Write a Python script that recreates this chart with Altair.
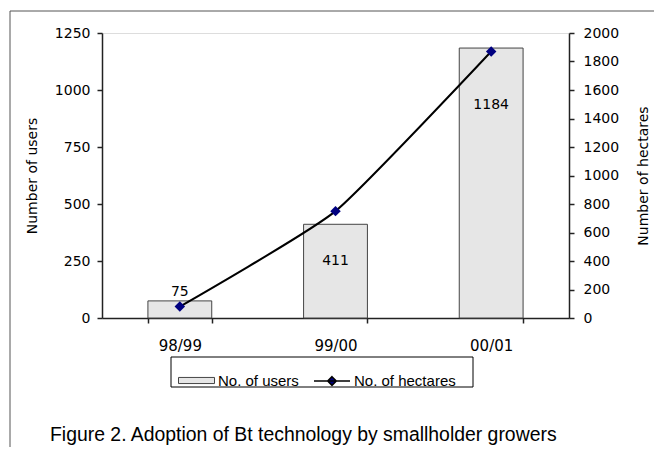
import altair as alt
import pandas as pd

# ---- data ----
categories = ["98/99", "99/00", "00/01"]
users = [75, 411, 1184]
hectares = [80, 750, 1870]
users_ticks = [0, 250, 500, 750, 1000, 1250]
hectare_ticks = [0, 200, 400, 600, 800, 1000, 1200, 1400, 1600, 1800, 2000]
caption = ["Figure 2. Adoption of Bt technology by smallholder growers"]

df = pd.DataFrame({"season": categories, "users": users, "hectares": hectares})
cap_df = pd.DataFrame({"caption": caption})
one = pd.DataFrame({"k": [0]})

AXFONT = "DejaVu Sans"
LEGFONT = "Liberation Sans"

x_enc = alt.X(
    "season:N",
    sort=categories,
    scale=alt.Scale(paddingInner=0.59, paddingOuter=0.295),
    axis=alt.Axis(
        title=None, labelAngle=0, tickBand="extent", tickSize=5, labelPadding=15,
        labelFont=AXFONT, labelFontSize=15, labelColor="black",
        domainColor="#222", domainWidth=1.5, tickColor="#222", tickWidth=1.5,
    ),
)

y_users = alt.Y(
    "users:Q",
    scale=alt.Scale(domain=[0, 1250], nice=False),
    axis=alt.Axis(
        title="Number of users", values=users_ticks, format="d", grid=False, tickSize=5,
        labelPadding=7, labelFont=AXFONT, labelFontSize=14, labelColor="black",
        titleFont=AXFONT, titleFontSize=14, titleFontWeight="normal",
        titleColor="black", titlePadding=15,
        domainColor="#222", domainWidth=1.5, tickColor="#222", tickWidth=1.5,
    ),
)

y_hect = alt.Y(
    "hectares:Q",
    scale=alt.Scale(domain=[0, 2000], nice=False),
    axis=alt.Axis(
        title="Number of hectares", orient="right", values=hectare_ticks, format="d",
        grid=False, tickSize=5, labelPadding=9, labelFont=AXFONT, labelFontSize=14,
        labelColor="black", titleFont=AXFONT, titleFontSize=14,
        titleFontWeight="normal", titleColor="black", titlePadding=32, titleAngle=270,
        domainColor="#222", domainWidth=1.5, tickColor="#222", tickWidth=1.5,
    ),
)

legend_users = alt.Legend(
    title=None, orient="none", legendX=76, legendY=329, padding=0,
    labelFont=LEGFONT, labelFontSize=15, labelColor="black", labelOffset=3,
    symbolSize=1296, symbolType="M-1,-0.17H1V0.17H-1Z",
    symbolStrokeColor="#444444", symbolStrokeWidth=1,
)

legend_hect = alt.Legend(
    title=None, orient="none", legendX=211, legendY=329, padding=0,
    labelFont=LEGFONT, labelFontSize=15, labelColor="black", labelOffset=3,
    symbolSize=1296, symbolType="M-1,0H1M0,-0.24L0.24,0L0,0.24L-0.24,0Z",
    symbolFillColor="#000080", symbolStrokeWidth=1.5,
)

bars = alt.Chart(df).mark_bar(stroke="#444444", strokeWidth=1).encode(
    x=x_enc,
    y=y_users,
    fill=alt.Fill(
        "series:N",
        scale=alt.Scale(domain=["No. of users"], range=["#e6e6e6"]),
        legend=legend_users,
    ),
).transform_calculate(series="'No. of users'")


def label_layer(season, dy, baseline):
    return alt.Chart(df).transform_filter(alt.datum.season == season).mark_text(
        font=AXFONT, fontSize=14, color="black", baseline=baseline, dy=dy
    ).encode(x=x_enc, y=y_users, text="users:Q")


labels = alt.layer(
    label_layer("98/99", -2, "bottom"),
    label_layer("99/00", 37, "middle"),
    label_layer("00/01", 57, "middle"),
)

line = alt.Chart(df).mark_line(strokeWidth=2, interpolate="cardinal", tension=0.5).encode(
    x=x_enc,
    y=y_hect,
    stroke=alt.Stroke(
        "series:N",
        scale=alt.Scale(domain=["No. of hectares"], range=["#000000"]),
        legend=legend_hect,
    ),
).transform_calculate(series="'No. of hectares'")

points = alt.Chart(df).mark_point(
    shape="diamond", filled=True, color="#000080", size=110, opacity=1
).encode(x=x_enc, y=y_hect)

left_part = alt.layer(bars, labels)
right_part = alt.layer(line, points)

legend_box = alt.Chart(one).mark_rect(fill="white", stroke="#000000", strokeWidth=1).encode(
    x=alt.value(69), x2=alt.value(371), y=alt.value(324), y2=alt.value(354)
)
frame_left = alt.Chart(one).mark_rule(color="#555555", strokeWidth=1).encode(
    x=alt.value(-92), y=alt.value(-22), y2=alt.value(422)
)
frame_top = alt.Chart(one).mark_rule(color="#555555", strokeWidth=1).encode(
    x=alt.value(-92), x2=alt.value(562), y=alt.value(-22)
)
cap = alt.Chart(cap_df).mark_text(
    align="left", baseline="middle", font=LEGFONT, fontSize=19.4, color="black"
).encode(x=alt.value(-52), y=alt.value(402), text="caption:N")

chart = alt.layer(
    legend_box, left_part, right_part, frame_left, frame_top, cap
).resolve_scale(y="independent").properties(
    width=467, height=285,
    autosize=alt.AutoSizeParams(type="none"),
    padding={"left": 94, "top": 25, "right": 85, "bottom": 129},
).configure_view(stroke="#404040", strokeWidth=1.5).configure(background="white")

chart.save("out.html", embed_options={"renderer": "svg", "actions": False})
